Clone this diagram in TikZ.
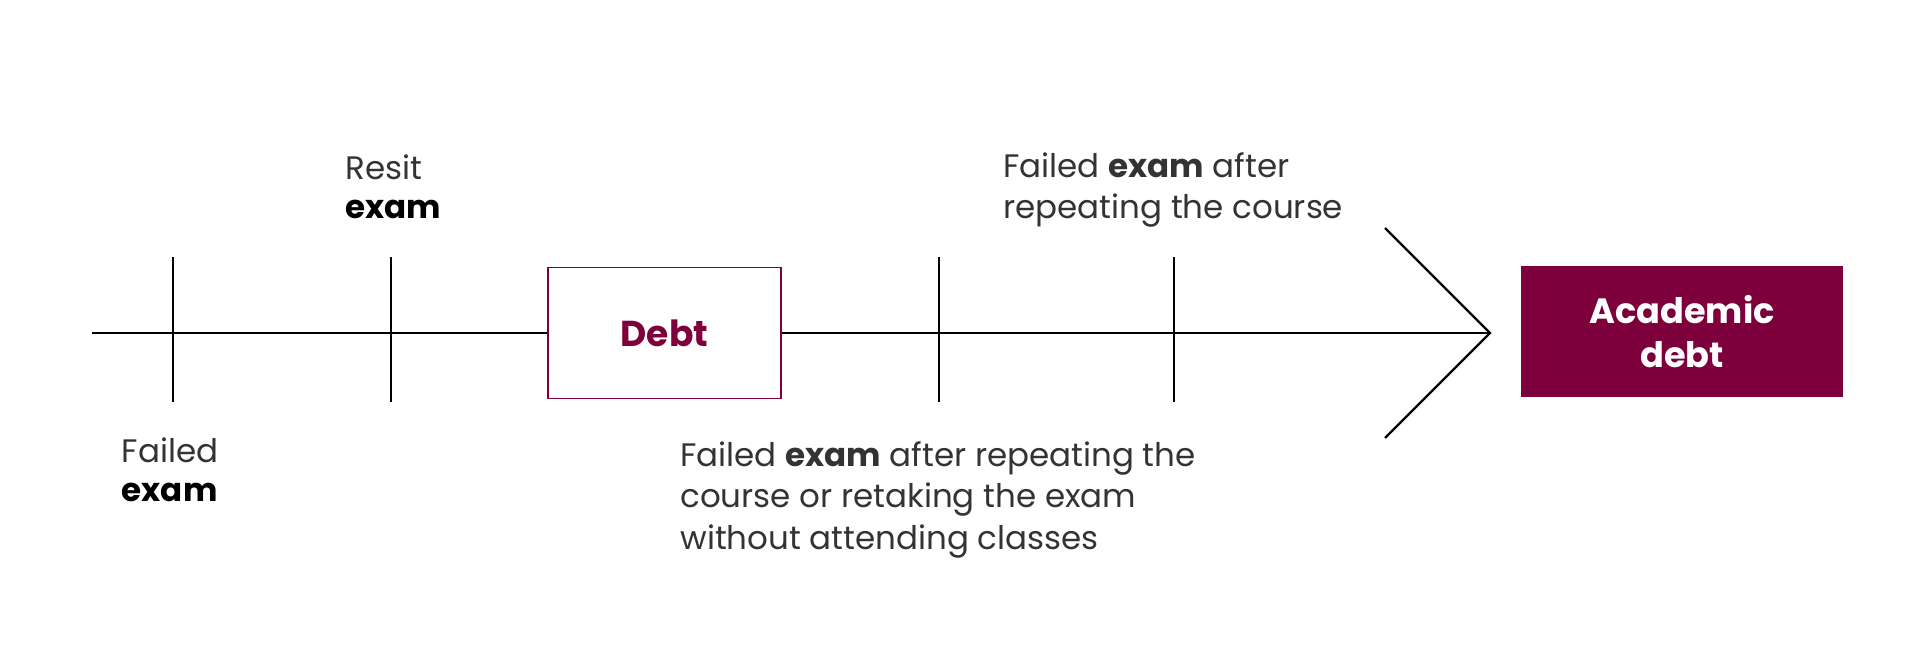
\documentclass[tikz,border=0pt]{standalone}
\usepackage{fontspec}
\setmainfont{Poppins}
\usepackage{xcolor}
\usetikzlibrary{positioning}
\definecolor{maroon}{HTML}{7D003C}
\definecolor{textgray}{HTML}{333333}

\begin{document}
\begin{tikzpicture}[
  note/.style={anchor=north west,inner sep=0pt,align=left,text=textgray,
               font=\fontsize{18.5}{22.2}\selectfont},
  longnote/.style={note,font=\fontsize{18.5}{23.6}\selectfont},
  axis/.style={line width=1.3pt,black},
  tickline/.style={line width=1.3pt,black},
  debtbox/.style={draw=maroon,line width=1.1pt,minimum width=4.66cm,minimum height=2.62cm,
                  text=maroon,font=\fontsize{20.5}{24}\selectfont\bfseries},
  finalbox/.style={fill=maroon,minimum width=6.44cm,minimum height=2.62cm,align=center,
                   text=white,font=\fontsize{20}{25}\selectfont\bfseries}]

\useasboundingbox (0,0) rectangle (38.4,13.24);

% time line
\coordinate (start) at (1.84,6.58);
\coordinate (tip) at (29.8,6.58);
\node[debtbox] (debt) at (13.29,6.58) {Debt};
\node[finalbox] (acad) at (33.64,6.61) {Academic\\debt};

\draw[axis] (start) -- (debt);
\draw[axis] (debt) -- (tip);
\draw[axis] (tip) ++(-2.1,2.1) -- (tip) -- ++(-2.1,-2.1);

% ticks
\foreach \x [count=\i] in {3.46,7.82,18.78,23.48} {
  \coordinate (tk\i) at (\x,6.58);
  \draw[tickline] (tk\i) ++(0,1.52) -- ++(0,-2.9);
}

% notes
\node[note] (failed) at (2.43,4.5) {Failed\\\textcolor{black}{\bfseries exam}};
\node[note] (resit) at (6.9,10.16) {Resit\\\textcolor{black}{\bfseries exam}};
\node[longnote] (repeat) at (20.06,10.2) {Failed \textbf{exam} after\\repeating the course};
\node[longnote] (retake) at (13.6,4.42)
  {Failed \textbf{exam} after repeating the\\course or retaking the exam\\without attending classes};
\end{tikzpicture}
\end{document}
